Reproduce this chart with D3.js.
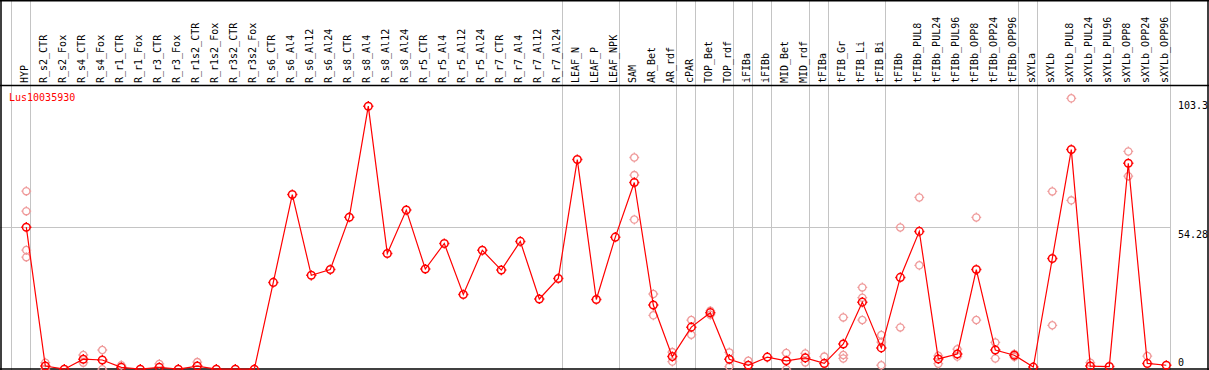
<!DOCTYPE html>
<html>
<head>
<meta charset="utf-8">
<script src="https://cdn.jsdelivr.net/npm/d3@7"></script>
<style>
  body { margin: 0; background: #fff; }
  svg { display: block; }
  text { font-family: "DejaVu Sans Mono", "Liberation Mono", monospace; font-size: 10px; }
</style>
</head>
<body>
<svg width="1209" height="370"></svg>
<script>
'use strict';

const geneName = "Lus10035930";

const samples = ["HYP", "R_s2_CTR", "R_s2_Fox", "R_s4_CTR", "R_s4_Fox", "R_r1_CTR", "R_r1_Fox",
  "R_r3_CTR", "R_r3_Fox", "R_r1s2_CTR", "R_r1s2_Fox", "R_r3s2_CTR", "R_r3s2_Fox",
  "R_s6_CTR", "R_s6_Al4", "R_s6_Al12", "R_s6_Al24", "R_s8_CTR", "R_s8_Al4", "R_s8_Al12", "R_s8_Al24",
  "R_r5_CTR", "R_r5_Al4", "R_r5_Al12", "R_r5_Al24", "R_r7_CTR", "R_r7_Al4", "R_r7_Al12", "R_r7_Al24",
  "LEAF_N", "LEAF_P", "LEAF_NPK", "SAM", "AR_Bet", "AR_rdf", "cPAR", "TOP_Bet", "TOP_rdf",
  "iFIBa", "iFIBb", "MID_Bet", "MID_rdf", "tFIBa", "tFIB_Gr", "tFIB_Li", "tFIB_Bi", "tFIBb",
  "tFIBb_PUL8", "tFIBb_PUL24", "tFIBb_PUL96", "tFIBb_OPP8", "tFIBb_OPP24", "tFIBb_OPP96",
  "sXYLa", "sXYLb", "sXYLb_PUL8", "sXYLb_PUL24", "sXYLb_PUL96", "sXYLb_OPP8", "sXYLb_OPP24", "sXYLb_OPP96"];

// mean expression per sample
const means = [54.3, 1.5, 0.3, 4.1, 3.8, 1.0, 0.3, 1.0, 0.3, 1.5, 0.3, 0.3, 0.3,
  33.3, 66.7, 36.0, 38.2, 58.1, 100.3, 44.3, 60.8,
  38.4, 48.1, 28.7, 45.5, 38.0, 48.9, 27.0, 34.8,
  80.0, 26.8, 50.5, 71.3, 24.7, 5.1, 16.3, 21.8, 4.1,
  1.8, 4.9, 3.5, 4.6, 2.5, 9.9, 25.8, 8.4, 35.2,
  52.7, 4.2, 6.1, 38.2, 7.6, 5.6,
  1.1, 42.4, 83.8, 1.5, 1.3, 78.6, 2.5, 1.8];

// individual replicates (only the ones visible apart from the mean)
const replicates = [[68.0, 60.4, 45.6, 42.9], [2.8, 0.3], [], [5.7, 2.8], [7.6, 0.3], [1.8], [],
  [2.3], [], [3.0], [], [], [],
  [], [], [], [], [], [], [], [],
  [], [], [], [], [], [], [], [],
  [], [], [], [80.8, 74.1, 57.2], [28.9, 20.8], [6.8, 3.2], [19.0, 13.4], [22.5, 21.0], [6.7, 1.3],
  [3.5], [], [6.5, 0.3], [6.3, 2.9], [5.1], [20.0, 5.7, 4.4], [31.4, 27.5, 19.0], [13.3, 10.6, 1.8], [54.2, 16.2],
  [65.6, 39.8], [5.4, 2.4], [7.9, 5.1], [58.0, 19.0], [10.5, 4.4], [6.1, 5.0],
  [], [67.9, 17.0], [103.3, 64.5], [2.8], [], [83.1, 73.7], [5.3], []];

// last sample of each group (a separator line is drawn after it)
const groupEnds = ["HYP", "R_r7_Al24", "LEAF_NPK", "AR_rdf", "cPAR", "TOP_rdf", "iFIBa", "iFIBb",
  "MID_rdf", "tFIBa", "tFIB_Bi", "tFIBb_OPP96", "sXYLa", "sXYLb_OPP96"];

const yTicks = [103.3, 54.28, 0];
const yGrid = [54.28];

const W = 1209, H = 370;
const headerBottom = 85;
const step = 19;
const left = 11.3;

const svg = d3.select("svg");

const x = d3.scaleBand()
  .domain(samples)
  .range([left, left + step * samples.length])
  .padding(0);

const y = d3.scaleLinear()
  .domain([0, d3.max(yTicks)])
  .range([370, 98.3]);

const px = (s) => x(s) + 15;
const plotRight = x(samples[samples.length - 1]) + x.bandwidth();

// grid lines
svg.append("g")
  .selectAll("line")
  .data([left].concat(groupEnds.map(s => x(s) + x.bandwidth())))
  .join("line")
  .attr("x1", d => Math.round(d) + 0.5)
  .attr("x2", d => Math.round(d) + 0.5)
  .attr("y1", 0)
  .attr("y2", H)
  .attr("stroke", "#c4c4c4")
  .attr("stroke-width", 1);

svg.append("g")
  .selectAll("line")
  .data(yGrid)
  .join("line")
  .attr("x1", 0)
  .attr("x2", Math.round(plotRight) + 0.5)
  .attr("y1", d => Math.round(y(d)) + 0.5)
  .attr("y2", d => Math.round(y(d)) + 0.5)
  .attr("stroke", "#c4c4c4")
  .attr("stroke-width", 1);

// frame
const frame = svg.append("g").attr("stroke", "#000").attr("stroke-width", 1.5);
frame.append("line").attr("x1", 0).attr("x2", W).attr("y1", 0.75).attr("y2", 0.75);
frame.append("line").attr("x1", 0).attr("x2", W).attr("y1", headerBottom + 0.5).attr("y2", headerBottom + 0.5);
frame.append("line").attr("x1", 0).attr("x2", W).attr("y1", H - 1).attr("y2", H - 1);
frame.append("line").attr("x1", 1).attr("x2", 1).attr("y1", 0).attr("y2", H);
frame.append("line").attr("x1", W - 1).attr("x2", W - 1).attr("y1", 0).attr("y2", H);

// sample labels, rotated
svg.append("g")
  .selectAll("text")
  .data(samples)
  .join("text")
  .attr("transform", d => `translate(${px(d) + 1.5},${headerBottom - 2}) rotate(-90)`)
  .attr("fill", "#000")
  .text(d => d);

// y tick labels at the right
svg.append("g")
  .selectAll("text")
  .data(yTicks)
  .join("text")
  .attr("x", 1178)
  .attr("y", d => Math.min(y(d) + 11, 366))
  .attr("fill", "#000")
  .text(d => d);

// gene name
svg.append("text")
  .attr("x", 9)
  .attr("y", 101)
  .attr("fill", "#ff0000")
  .text(geneName);

// marker: ring with small ticks
function marker(r) {
  const t = r + 1.3;
  return `M${-r},0A${r},${r} 0 1,0 ${r},0A${r},${r} 0 1,0 ${-r},0` +
    `M0,${-t}V${-r}M0,${r}V${t}M${-t},0H${-r}M${r},0H${t}`;
}

const plot = svg.append("g");

// replicates
const repPoints = [];
samples.forEach((s, i) => replicates[i].forEach(v => repPoints.push({s: s, v: v})));

plot.append("g")
  .selectAll("path")
  .data(repPoints)
  .join("path")
  .attr("transform", d => `translate(${px(d.s)},${y(d.v)})`)
  .attr("d", marker(3.6))
  .attr("fill", "none")
  .attr("stroke", "#ef9a9a")
  .attr("stroke-width", 1.3);

// mean line
const line = d3.line()
  .x((d, i) => px(samples[i]))
  .y(d => y(d));

plot.append("path")
  .datum(means)
  .attr("d", line)
  .attr("fill", "none")
  .attr("stroke", "#ff0000")
  .attr("stroke-width", 1.2);

plot.append("g")
  .selectAll("path")
  .data(means)
  .join("path")
  .attr("transform", (d, i) => `translate(${px(samples[i])},${y(d)})`)
  .attr("d", marker(3.8))
  .attr("fill", "none")
  .attr("stroke", "#ff0000")
  .attr("stroke-width", 1.5);
</script>
</body>
</html>
